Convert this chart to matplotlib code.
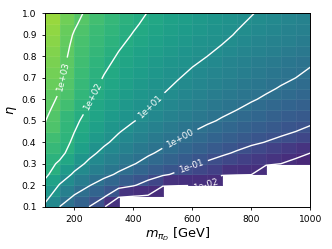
import numpy as np
import matplotlib
matplotlib.use("Agg")
import matplotlib.pyplot as plt
from matplotlib.colors import LogNorm

# grid nodes
m_piD = [100, 150, 200, 250, 300, 350, 400, 450, 500, 550, 600, 650, 700, 750, 800, 850, 900, 950, 1000]
eta = [0.10, 0.15, 0.20, 0.25, 0.30, 0.35, 0.40, 0.45, 0.50, 0.55, 0.60, 0.65, 0.70, 0.75, 0.80, 0.85, 0.90, 0.95, 1.00]
N = np.nan
# log10 of the plotted quantity, rows = eta (0.10 -> 1.00), columns = m_piD
log_value = [
    [0.85, 0.00, -0.50, -1.00, -1.90, N, N, N, N, N, N, N, N, N, N, N, N, N, N],
    [1.30, 0.51, -0.05, -0.44, -0.85, -1.85, -1.97, -2.05, N, N, N, N, N, N, N, N, N, N, N],
    [1.75, 0.95, 0.44, 0.04, -0.33, -0.65, -0.93, -1.30, -1.90, -1.95, -1.97, -1.99, N, N, N, N, N, N, N],
    [2.20, 1.45, 0.88, 0.50, 0.19, -0.10, -0.40, -0.66, -0.90, -1.12, -1.32, -1.50, -1.90, -1.95, -1.98, N, N, N, N],
    [2.30, 1.89, 1.29, 0.86, 0.54, 0.27, 0.04, -0.22, -0.47, -0.69, -0.89, -1.10, -1.30, -1.50, -1.67, -1.84, -2.00, -2.15, -2.30],
    [2.52, 2.22, 1.64, 1.18, 0.83, 0.55, 0.31, 0.09, -0.12, -0.33, -0.53, -0.72, -0.89, -1.07, -1.28, -1.47, -1.66, -1.84, -2.00],
    [2.74, 2.36, 1.86, 1.44, 1.11, 0.82, 0.56, 0.34, 0.14, -0.05, -0.24, -0.42, -0.59, -0.74, -0.88, -1.02, -1.15, -1.30, -1.50],
    [2.97, 2.43, 2.01, 1.63, 1.31, 1.04, 0.79, 0.56, 0.36, 0.18, 0.01, -0.17, -0.33, -0.48, -0.62, -0.75, -0.88, -1.00, -1.15],
    [3.03, 2.51, 2.12, 1.79, 1.49, 1.24, 1.03, 0.81, 0.60, 0.42, 0.25, 0.09, -0.06, -0.22, -0.37, -0.51, -0.64, -0.76, -0.88],
    [3.15, 2.76, 2.29, 1.92, 1.63, 1.39, 1.17, 0.98, 0.78, 0.60, 0.43, 0.27, 0.13, 0.00, -0.15, -0.29, -0.42, -0.54, -0.68],
    [3.22, 2.92, 2.43, 2.05, 1.76, 1.51, 1.30, 1.12, 0.94, 0.76, 0.59, 0.44, 0.30, 0.17, 0.05, -0.08, -0.21, -0.34, -0.48],
    [3.37, 3.02, 2.54, 2.17, 1.87, 1.63, 1.42, 1.23, 1.07, 0.90, 0.74, 0.59, 0.45, 0.31, 0.19, 0.08, -0.04, -0.16, -0.30],
    [3.50, 3.11, 2.64, 2.27, 1.97, 1.73, 1.53, 1.34, 1.18, 1.03, 0.87, 0.72, 0.58, 0.45, 0.33, 0.21, 0.10, 0.00, -0.13],
    [3.62, 3.17, 2.72, 2.36, 2.08, 1.84, 1.63, 1.45, 1.28, 1.14, 1.00, 0.85, 0.70, 0.57, 0.44, 0.32, 0.21, 0.10, 0.00],
    [3.72, 3.23, 2.80, 2.46, 2.19, 1.95, 1.75, 1.57, 1.41, 1.26, 1.12, 1.00, 0.85, 0.72, 0.60, 0.48, 0.37, 0.26, 0.16],
    [3.80, 3.29, 2.87, 2.55, 2.29, 2.06, 1.86, 1.68, 1.51, 1.37, 1.23, 1.10, 0.99, 0.86, 0.73, 0.62, 0.51, 0.41, 0.31],
    [3.90, 3.35, 2.95, 2.64, 2.38, 2.17, 1.97, 1.79, 1.62, 1.47, 1.33, 1.20, 1.09, 0.97, 0.85, 0.74, 0.63, 0.53, 0.44],
    [4.00, 3.48, 3.07, 2.75, 2.49, 2.26, 2.07, 1.89, 1.71, 1.56, 1.42, 1.29, 1.17, 1.05, 0.94, 0.84, 0.73, 0.63, 0.54],
    [4.15, 3.61, 3.19, 2.86, 2.59, 2.36, 2.16, 1.98, 1.80, 1.65, 1.50, 1.37, 1.24, 1.13, 1.02, 0.91, 0.81, 0.71, 0.62],
]
level_exponents = [-2, -1, 0, 1, 2, 3]
level_labels = ["1e-02", "1e-01", "1e+00", "1e+01", "1e+02", "1e+03"]

L = np.array(log_value, dtype=float)
Z = np.ma.masked_invalid(10.0 ** L)
Lc = np.where(np.isnan(L), -3.0, L)   # empty region sits below the lowest level
X, Y = np.meshgrid(m_piD, eta)

fig = plt.figure(figsize=(3.32, 2.49), dpi=100)
ax = fig.add_axes([0.135, 0.170, 0.800, 0.776])

norm = LogNorm(vmin=10 ** -3.1, vmax=10 ** 5.3)
ax.pcolormesh(m_piD, eta, Z[:-1, :-1], cmap="viridis", norm=norm,
              shading="flat", edgecolors=(1, 1, 1, 0.06), linewidth=0.4)
cs = ax.contour(X, Y, Lc, levels=level_exponents, colors="white",
                linewidths=1.0, linestyles="solid")
ax.clabel(cs, level_exponents, inline=True, fontsize=6.4,
          fmt=dict(zip(level_exponents, level_labels)), colors="white",
          manual=[(157, 0.705), (265, 0.61), (451, 0.574), (550, 0.435),
                  (596, 0.286), (646, 0.206)])

ax.set_xlim(100, 1000)
ax.set_ylim(0.1, 1.0)
ax.set_xticks([200, 400, 600, 800, 1000])
ax.set_yticks([0.1, 0.2, 0.3, 0.4, 0.5, 0.6, 0.7, 0.8, 0.9, 1.0])
ax.tick_params(labelsize=6.6, length=2.5, width=0.6)
for s in ax.spines.values():
    s.set_linewidth(0.7)
ax.set_xlabel(r"$m_{\pi_D}$ [GeV]", fontsize=9.3, labelpad=1)
ax.set_ylabel(r"$\eta$", fontsize=9.3, labelpad=2)

fig.savefig("out.png", dpi=100)
